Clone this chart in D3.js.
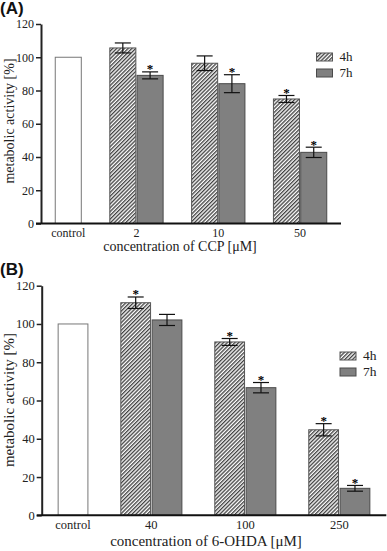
<!DOCTYPE html>
<html><head><meta charset="utf-8">
<script src="https://cdn.jsdelivr.net/npm/d3@7/dist/d3.min.js"></script>
<style>html,body{margin:0;padding:0;background:#fff;}svg{display:block;}</style>
</head><body><svg id="c" width="387" height="551"></svg>
<script>
// ---- data ----
const categoriesA = ["control", "2", "10", "50"];
const controlA = 100;
const values4hA = [105.6, 96.4, 74.9];
const errors4hA = [3.0, 4.4, 2.1];
const signif4hA = [false, false, true];
const values7hA = [89.1, 84.1, 42.8];
const errors7hA = [2.1, 5.4, 3.1];
const signif7hA = [true, true, true];

const categoriesB = ["control", "40", "100", "250"];
const controlB = 100;
const values4hB = [111.1, 90.6, 44.7];
const errors4hB = [3.0, 1.8, 3.2];
const signif4hB = [true, true, true];
const values7hB = [102.1, 66.7, 14.1];
const errors7hB = [2.9, 2.7, 1.5];
const signif7hB = [false, true, true];

const yTicks = [0, 20, 40, 60, 80, 100, 120];
const seriesNames = ["4h", "7h"];

const svg = d3.select("#c");
const defs = svg.append("defs");
const pat = defs.append("pattern").attr("id", "hatch").attr("patternUnits", "userSpaceOnUse")
  .attr("width", 2.7).attr("height", 2.7).attr("patternTransform", "rotate(45)");
pat.append("rect").attr("width", 2.7).attr("height", 2.7).attr("fill", "#fff");
pat.append("line").attr("x1", 0.7).attr("y1", 0).attr("x2", 0.7).attr("y2", 2.7)
  .attr("stroke", "#222").attr("stroke-width", 1.15);

const serif = "'Liberation Serif', 'Times New Roman', serif";

function panel(cfg) {
  const g = svg.append("g");
  const x = d3.scaleLinear().domain([-1, 10]).range(cfg.xr);
  const y = d3.scaleLinear().domain([0, 120]).range(cfg.yr);
  const slot = x(1) - x(0);
  const bw = slot * cfg.bwFrac;

  const bars = [{slot: 0, v: cfg.control, type: "control"}];
  cfg.v4.forEach((v, i) => bars.push({slot: 3 * (i + 1) - 1, v, e: cfg.e4[i], s: cfg.s4[i], type: "4h"}));
  cfg.v7.forEach((v, i) => bars.push({slot: 3 * (i + 1), v, e: cfg.e7[i], s: cfg.s7[i], type: "7h"}));

  const fill = t => t === "control" ? "#fff" : t === "4h" ? "url(#hatch)" : "#808080";
  const stroke = t => t === "control" ? "#777" : t === "4h" ? "#555" : "#4a4a4a";

  g.selectAll("rect.bar").data(bars).join("rect").attr("class", "bar")
    .attr("x", d => x(d.slot) - bw / 2).attr("width", bw)
    .attr("y", d => y(d.v)).attr("height", d => y(0) - y(d.v))
    .attr("fill", d => fill(d.type)).attr("stroke", d => stroke(d.type)).attr("stroke-width", 1);

  const eb = bars.filter(d => d.e != null);
  const cap = cfg.cap;
  eb.forEach(d => {
    const cx = x(d.slot);
    g.append("line").attr("x1", cx).attr("x2", cx).attr("y1", y(d.v + d.e)).attr("y2", y(d.v - d.e))
      .attr("stroke", "#111").attr("stroke-width", 1.2);
    [d.v + d.e, d.v - d.e].forEach(vv => g.append("line").attr("x1", cx - cap / 2).attr("x2", cx + cap / 2)
      .attr("y1", y(vv)).attr("y2", y(vv)).attr("stroke", "#111").attr("stroke-width", 1.2));
    if (d.s) g.append("text").attr("x", cx).attr("y", y(d.v + d.e) + 1.5).attr("text-anchor", "middle")
      .attr("font-family", serif).attr("font-size", 13).attr("font-weight", "bold").attr("fill", "#000").text("*");
  });

  const yAxis = d3.axisLeft(y).tickValues(yTicks).tickSize(5).tickSizeOuter(0).tickPadding(2);
  const ya = g.append("g").attr("transform", `translate(${cfg.xr[0]},0)`).call(yAxis);
  ya.select(".domain").attr("stroke", "#222").attr("stroke-width", 2);
  ya.selectAll(".tick line").attr("stroke", "#222").attr("stroke-width", 1.5);
  ya.selectAll(".tick text").attr("font-family", serif).attr("font-size", cfg.tickSize).attr("fill", "#222");

  g.append("line").attr("x1", cfg.xr[0] - 5).attr("x2", cfg.xr[1]).attr("y1", y(0)).attr("y2", y(0))
    .attr("stroke", "#111").attr("stroke-width", 2);

  const catSlots = [0, 2.5, 5.5, 8.5];
  g.selectAll("text.cat").data(cfg.cats).join("text").attr("class", "cat")
    .attr("x", (d, i) => x(catSlots[i])).attr("y", y(0) + cfg.catDy).attr("text-anchor", "middle")
    .attr("font-family", serif).attr("font-size", cfg.tickSize).attr("fill", "#222").text(d => d);

  g.append("text").attr("x", cfg.xTitleX).attr("y", cfg.xTitleY).attr("text-anchor", "middle")
    .attr("font-family", serif).attr("font-size", cfg.titleSize).attr("fill", "#222").text(cfg.xTitle);
  g.append("text").attr("transform", `translate(${cfg.yTitleX},${cfg.yTitleY}) rotate(-90)`)
    .attr("text-anchor", "middle").attr("font-family", serif).attr("font-size", cfg.titleSize)
    .attr("fill", "#222").text("metabolic activity [%]");

  g.append("text").attr("x", 0).attr("y", cfg.labelY).attr("font-family", "'Liberation Sans', Arial, sans-serif")
    .attr("font-weight", "bold").attr("font-size", 17).attr("fill", "#111").text(cfg.label);

  const lg = g.append("g").attr("transform", `translate(${cfg.legX},${cfg.legY})`);
  seriesNames.forEach((n, i) => {
    lg.append("rect").attr("x", 0).attr("y", i * cfg.legStep).attr("width", 16).attr("height", 8)
      .attr("fill", fill(n)).attr("stroke", stroke(n)).attr("stroke-width", 1);
    lg.append("text").attr("x", 23).attr("y", i * cfg.legStep + 8).attr("font-family", serif)
      .attr("font-size", cfg.tickSize + 1).attr("fill", "#222").text(n);
  });
}

panel({
  xr: [41, 341], yr: [223.5, 24], bwFrac: 0.955, cap: 16, tickSize: 12, titleSize: 14,
  control: controlA, v4: values4hA, e4: errors4hA, s4: signif4hA, v7: values7hA, e7: errors7hA, s7: signif7hA,
  cats: categoriesA, catDy: 13, xTitle: "concentration of CCP [\u03BCM]", xTitleX: 180, xTitleY: 251,
  yTitleX: 14, yTitleY: 121, label: "(A)", labelY: 14, legX: 316.5, legY: 53, legStep: 16
});
panel({
  xr: [41.7, 386.3], yr: [515.3, 285.7], bwFrac: 0.95, cap: 16, tickSize: 12.5, titleSize: 15,
  control: controlB, v4: values4hB, e4: errors4hB, s4: signif4hB, v7: values7hB, e7: errors7hB, s7: signif7hB,
  cats: categoriesB, catDy: 14, xTitle: "concentration of 6-OHDA [\u03BCM]", xTitleX: 206, xTitleY: 546,
  yTitleX: 14, yTitleY: 400, label: "(B)", labelY: 275, legX: 340, legY: 352, legStep: 16
});
</script></body></html>
